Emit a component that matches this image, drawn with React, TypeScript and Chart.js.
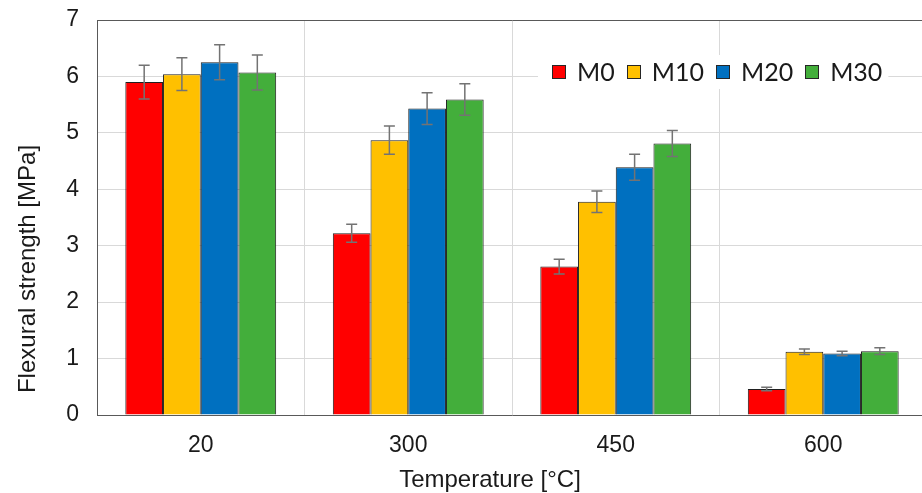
import React, { useEffect, useRef } from "react";
import { Chart, registerables } from "chart.js";

Chart.register(...registerables);

// ---- data ----
const categories = ["20", "300", "450", "600"];
const seriesNames = ["M0", "M10", "M20", "M30"];
const m0 = [5.9, 3.22, 2.63, 0.46];
const m10 = [6.04, 4.87, 3.78, 1.12];
const m20 = [6.25, 5.43, 4.39, 1.09];
const m30 = [6.07, 5.59, 4.81, 1.13];
const m0Err = [0.3, 0.16, 0.13, 0.03];
const m10Err = [0.29, 0.25, 0.19, 0.05];
const m20Err = [0.31, 0.28, 0.23, 0.04];
const m30Err = [0.31, 0.28, 0.23, 0.06];
const yMin = 0;
const yMax = 7;
const yStep = 1;
const xTitle = "Temperature [°C]";
const yTitle = "Flexural strength [MPa]";

// ---- styles ----
const colors = ["#ff0000", "#ffc000", "#0070c0", "#43ae3b"];
const seriesValues = [m0, m10, m20, m30];
const seriesErrors = [m0Err, m10Err, m20Err, m30Err];
const textColor = "#1a1a1a";
const axisFont = "Liberation Sans";

const errorBarPlugin = {
  id: "errorBars",
  afterDatasetsDraw(chart: any) {
    const { ctx } = chart;
    const yScale = chart.scales.y;
    ctx.save();
    ctx.strokeStyle = "#737373";
    ctx.lineWidth = 1.5;
    chart.data.datasets.forEach((_ds: any, i: number) => {
      const meta = chart.getDatasetMeta(i);
      const vals = seriesValues[i];
      const errs = seriesErrors[i];
      meta.data.forEach((el: any, j: number) => {
        const x = el.x;
        const yt = yScale.getPixelForValue(vals[j] + errs[j]);
        const yb = yScale.getPixelForValue(vals[j] - errs[j]);
        const cap = 5.5;
        ctx.beginPath();
        ctx.moveTo(x, yt);
        ctx.lineTo(x, yb);
        ctx.moveTo(x - cap, yt);
        ctx.lineTo(x + cap, yt);
        ctx.moveTo(x - cap, yb);
        ctx.lineTo(x + cap, yb);
        ctx.stroke();
      });
    });
    ctx.restore();
  },
};

// axis titles placed like the original (not centred on the plot area)
const axisTitlePlugin = {
  id: "axisTitles",
  afterDraw(chart: any) {
    const { ctx, chartArea } = chart;
    ctx.save();
    ctx.fillStyle = textColor;
    ctx.font = `24px "${axisFont}"`;
    ctx.textAlign = "center";
    ctx.textBaseline = "alphabetic";
    ctx.fillText(xTitle, chartArea.left + 393, chartArea.bottom + 72);
    ctx.translate(35, chartArea.bottom - 146);
    ctx.rotate(-Math.PI / 2);
    ctx.fillText(yTitle, 0, 0);
    ctx.restore();
  },
};

const insideLegendPlugin = {
  id: "insideLegend",
  afterDraw(chart: any) {
    const { ctx, chartArea } = chart;
    ctx.save();
    ctx.font = "25px Lato";
    const box = 14;
    const gapText = 11;
    const gapItem = 12;
    const widths = seriesNames.map((n) => ctx.measureText(n).width);
    const total =
      widths.reduce((a, w) => a + box + gapText + w, 0) + gapItem * (seriesNames.length - 1);
    const x0 = chartArea.left + 455;
    const cy = chartArea.top + 52;
    ctx.fillStyle = "#ffffff";
    ctx.fillRect(x0 - 14, cy - 17, total + 20, 34);
    let x = x0;
    seriesNames.forEach((name, i) => {
      const bx = Math.round(x);
      const by = Math.round(cy - box / 2);
      ctx.fillStyle = colors[i];
      ctx.fillRect(bx, by, box, box);
      ctx.strokeStyle = "#262626";
      ctx.lineWidth = 1;
      ctx.strokeRect(bx + 0.5, by + 0.5, box - 1, box - 1);
      ctx.fillStyle = textColor;
      ctx.textBaseline = "middle";
      ctx.textAlign = "left";
      ctx.fillText(name, x + box + gapText, cy + 1);
      x += box + gapText + widths[i] + gapItem;
    });
    ctx.restore();
  },
};

export default function App() {
  const canvasRef = useRef<HTMLCanvasElement | null>(null);

  useEffect(() => {
    document.body.style.margin = "0";
    const canvas = canvasRef.current;
    if (!canvas) return;
    const chart = new Chart(canvas, {
      type: "bar",
      data: {
        labels: categories,
        datasets: seriesNames.map((name, i) => ({
          label: name,
          data: seriesValues[i],
          backgroundColor: colors[i],
          borderColor: "#1f1f1f",
          borderWidth: 1,
          barPercentage: 1,
          categoryPercentage: 0.727,
        })),
      },
      options: {
        responsive: false,
        animation: false,
        devicePixelRatio: 1,
        layout: { padding: { top: 20, right: 0, left: 0, bottom: 0 } },
        plugins: {
          legend: { display: false },
          tooltip: { enabled: false },
        },
        scales: {
          x: {
            grid: { color: "#d9d9d9", lineWidth: 1, drawTicks: false, offset: true },
            border: { color: "#595959", width: 1 },
            ticks: { font: { family: axisFont, size: 23 }, color: textColor, padding: 17 },
            title: { display: false, text: xTitle },
            afterFit(scale: any) {
              scale.height = 78;
            },
          },
          y: {
            min: yMin,
            max: yMax,
            ticks: {
              stepSize: yStep,
              font: { family: axisFont, size: 23 },
              color: textColor,
              padding: 18,
            },
            grid: {
              color: (c: any) => (c.tick && c.tick.value === yMax ? "#595959" : "#d9d9d9"),
              lineWidth: 1,
              drawTicks: false,
            },
            border: { color: "#595959", width: 1 },
            title: { display: false, text: yTitle },
            afterFit(scale: any) {
              scale.width = 97;
              scale.paddingTop = 0;
              scale.paddingBottom = 0;
            },
          },
        },
      },
      plugins: [errorBarPlugin, axisTitlePlugin, insideLegendPlugin],
    });
    return () => chart.destroy();
  }, []);

  return (
    <div style={{ width: 922, height: 493, overflow: "hidden", position: "relative" }}>
      <canvas ref={canvasRef} width={927} height={493} style={{ display: "block" }} />
    </div>
  );
}
